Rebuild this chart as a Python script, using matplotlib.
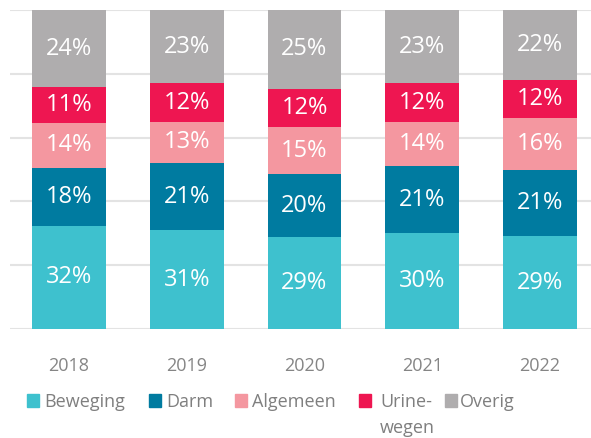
import numpy as np
import matplotlib
matplotlib.use("Agg")
import matplotlib.pyplot as plt
from matplotlib.patches import Rectangle

# data
years = ["2018", "2019", "2020", "2021", "2022"]
categories = ["Beweging", "Darm", "Algemeen", "Urine-\nwegen", "Overig"]
beweging = [32, 31, 29, 30, 29]
darm = [18, 21, 20, 21, 21]
algemeen = [14, 13, 15, 14, 16]
urinewegen = [11, 12, 12, 12, 12]
overig = [24, 23, 25, 23, 22]

colors = ["#3EC1CE", "#007BA0", "#F497A0", "#EE1651", "#AFADAE"]

plt.rcParams['font.family'] = ['Open Sans', 'DejaVu Sans']

series = np.array([beweging, darm, algemeen, urinewegen, overig], dtype=float)
totals = series.sum(axis=0)
shares = series / totals * 100  # stacked to 100%

fig = plt.figure(figsize=(5.91, 4.38), dpi=100)
ax = fig.add_axes([10 / 591, 1 - 329 / 438, 589 / 591, 319 / 438])

x = np.arange(len(years))
bottom = np.zeros(len(years))
for vals, share, col in zip(series, shares, colors):
    ax.bar(x, share, bottom=bottom, width=0.627, color=col, zorder=3)
    for xi, b, s, v in zip(x, bottom, share, vals):
        ax.text(xi, b + s / 2, f"{int(v)}%", ha='center', va='center',
                color='white', fontsize=17, zorder=4)
    bottom += share

ax.set_xlim(-0.5, 4.5)
ax.set_ylim(0, 100)
ax.set_yticks(np.arange(0, 101, 20))
ax.yaxis.grid(True, color='#E3E3E3', linewidth=1.5, zorder=0)
ax.set_yticklabels([])
ax.tick_params(axis='y', length=0)
ax.set_xticks(x)
ax.set_xticklabels(years, fontsize=13, color='#858585')
ax.tick_params(axis='x', length=0, pad=20)
for sp in ax.spines.values():
    sp.set_visible(False)

# legend, drawn by hand so the wrapped label sits like the original
sq_left = [27, 149, 235, 359, 445]
txt_left = [44, 166, 252, 380, 460]
W, H = 591, 438
for lab, col, sx, tx in zip(categories, colors, sq_left, txt_left):
    fig.patches.append(Rectangle((sx / W, 1 - 407 / H), 12 / W, 13 / H,
                                 transform=fig.transFigure, color=col))
    fig.text(tx / W, 1 - 393 / H, lab, ha='left', va='top', fontsize=13,
             color='#7F7F7F', linespacing=1.6)

fig.savefig("out.png", dpi=100)
